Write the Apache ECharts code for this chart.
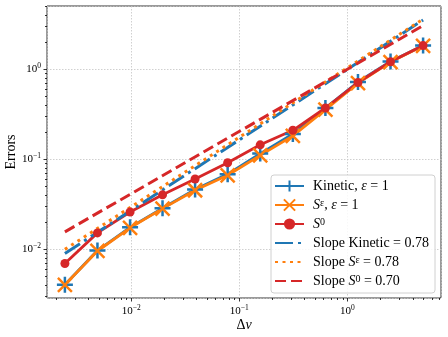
<!DOCTYPE html>
<html>
<head>
<meta charset="utf-8">
<script src="https://cdn.jsdelivr.net/npm/echarts@6/dist/echarts.min.js"></script>
<style>
  html, body { margin: 0; padding: 0; background: #fff; }
  #chart { width: 448px; height: 337px; }
</style>
</head>
<body>
<div id="chart"></div>
<script>
// step sizes, halved each time
const dv = [0.00244, 0.00488, 0.00977, 0.0195, 0.039, 0.078, 0.156, 0.3125, 0.625, 1.25, 2.5, 5];
const errKinetic = [0.0040, 0.0096, 0.0174, 0.0284, 0.046, 0.068, 0.115, 0.19, 0.37, 0.72, 1.22, 1.83];
const errSeps = [0.0040, 0.0095, 0.0172, 0.0281, 0.045, 0.066, 0.110, 0.181, 0.355, 0.70, 1.20, 1.82];
const errS0 = [0.0069, 0.0151, 0.0258, 0.0400, 0.060, 0.091, 0.144, 0.209, 0.37, 0.71, 1.21, 1.83];
// fitted slope lines, value at first and last dv
const slopeKinetic = [0.0089, 3.52];
const slopeSeps = [0.0099, 3.60];
const slopeS0 = [0.0155, 3.05];

const xMajor = [0.01, 0.1, 1];
const xMinor = [0.002, 0.003, 0.004, 0.005, 0.006, 0.007, 0.008, 0.009,
  0.02, 0.03, 0.04, 0.05, 0.06, 0.07, 0.08, 0.09,
  0.2, 0.3, 0.4, 0.5, 0.6, 0.7, 0.8, 0.9, 2, 3, 4, 5, 6, 7];
const yMajor = [0.01, 0.1, 1];
const yMinor = [0.003, 0.004, 0.005, 0.006, 0.007, 0.008, 0.009,
  0.02, 0.03, 0.04, 0.05, 0.06, 0.07, 0.08, 0.09,
  0.2, 0.3, 0.4, 0.5, 0.6, 0.7, 0.8, 0.9, 2, 3, 4, 5];

const legendText = {
  Kinetic: 'Kinetic, {i|ε} = 1',
  Seps: '{i|S}{sup|ε}, {i|ε} = 1',
  S0: '{i|S}{sup|0}',
  SlopeK: 'Slope Kinetic = 0.78',
  SlopeSeps: 'Slope {i|S}{sup|ε} = 0.78',
  SlopeS0: 'Slope {i|S}{sup|0} = 0.70'
};

const font = 'Liberation Serif';
const blue = '#1f77b4', orange = '#ff7f0e', red = '#d62728';

function pairs(ys) { return dv.map((x, i) => [x, ys[i]]); }
function ends(ys) { return [[dv[0], ys[0]], [dv[dv.length - 1], ys[1]]]; }

function powLabel(v) {
  const l = Math.log10(v);
  const e = Math.round(l);
  if (Math.abs(l - e) > 1e-6) return '';
  return '10{sup|' + (e < 0 ? '−' + (-e) : e) + '}';
}

function tickSeries(axis, values, len) {
  return {
    type: 'custom', silent: true, clip: false, z: 5,
    data: values.map(v => axis === 'x' ? [v, 1] : [1, v]),
    renderItem: function (params, api) {
      const cs = params.coordSys;
      let shape;
      if (axis === 'x') {
        const x = Math.round(api.coord([api.value(0), 1])[0]) + 0.5;
        const y = cs.y + cs.height;
        shape = { x1: x, y1: y, x2: x, y2: y + len };
      } else {
        const y = Math.round(api.coord([1, api.value(1)])[1]) + 0.5;
        shape = { x1: cs.x - len, y1: y, x2: cs.x, y2: y };
      }
      return { type: 'line', shape: shape, style: { stroke: '#000', lineWidth: 0.8 } };
    }
  };
}

const labelRich = {
  sup: { fontSize: 7.5, fontFamily: font, color: '#000', verticalAlign: 'top', lineHeight: 13 }
};
const gridLine = { show: true, lineStyle: { color: '#c4c4c4', type: [1.5, 1.5], width: 0.8 } };
const noMark = { opacity: 0 };

let option = {
  animation: false,
  backgroundColor: '#fff',
  grid: {
    left: 47, right: 7, top: 6, bottom: 39, containLabel: false, outerBoundsMode: 'none',
    show: true, borderColor: '#000', borderWidth: 0.8
  },
  xAxis: {
    type: 'log', min: 0.001667, max: 7.32,
    axisLine: { show: false }, axisTick: { show: false },
    splitLine: gridLine,
    axisLabel: {
      formatter: powLabel, margin: 6, fontFamily: font, fontSize: 11, color: '#000',
      lineHeight: 14, rich: labelRich
    },
    name: 'Δ{i|v}', nameLocation: 'middle', nameGap: 20, nameMoveOverlap: false,
    nameTextStyle: { fontFamily: font, fontSize: 14, color: '#000',
      rich: { i: { fontStyle: 'italic', fontFamily: font, fontSize: 14 } } }
  },
  yAxis: {
    type: 'log', min: 0.00285, max: 5.04,
    axisLine: { show: false }, axisTick: { show: false },
    splitLine: gridLine,
    axisLabel: {
      formatter: powLabel, margin: 6, fontFamily: font, fontSize: 11, color: '#000',
      lineHeight: 14, rich: labelRich
    },
    name: 'Errors', nameLocation: 'middle', nameGap: 29, nameMoveOverlap: false,
    nameTextStyle: { fontFamily: font, fontSize: 14, color: '#000' }
  },
  legend: {
    data: [
      { name: 'Kinetic' }, { name: 'Seps' }, { name: 'S0' },
      { name: 'SlopeK', itemStyle: noMark },
      { name: 'SlopeSeps', itemStyle: noMark },
      { name: 'SlopeS0', itemStyle: noMark }
    ],
    orient: 'vertical', right: 13, bottom: 44,
    itemWidth: 29, itemHeight: 14, itemGap: 5,
    padding: [4, 6, 5, 3],
    backgroundColor: 'rgba(255,255,255,0.85)',
    borderColor: '#d0d0d0', borderWidth: 1, borderRadius: 3,
    formatter: n => legendText[n],
    textStyle: {
      fontFamily: font, fontSize: 14, color: '#000', padding: [0, 0, 0, 4], lineHeight: 14,
      rich: {
        i: { fontStyle: 'italic', fontFamily: font, fontSize: 14, lineHeight: 14 },
        sup: { fontSize: 10, fontFamily: font, verticalAlign: 'top', lineHeight: 14 }
      }
    }
  },
  series: [
    {
      name: 'Kinetic', type: 'line', data: pairs(errKinetic),
      symbol: 'path://M5,0L5,10M0,5L10,5', symbolSize: 16,
      lineStyle: { color: blue, width: 2.8 },
      itemStyle: { color: blue, borderColor: blue, borderWidth: 2.5 }
    },
    {
      name: 'Seps', type: 'line', data: pairs(errSeps),
      symbol: 'path://M0,0L10,10M10,0L0,10', symbolSize: 14,
      lineStyle: { color: orange, width: 2.8 },
      itemStyle: { color: orange, borderColor: orange, borderWidth: 2.5 }
    },
    {
      name: 'S0', type: 'line', data: pairs(errS0),
      symbol: 'circle', symbolSize: 9,
      lineStyle: { color: red, width: 2.8 },
      itemStyle: { color: red, borderWidth: 0 }
    },
    {
      name: 'SlopeK', type: 'line', data: ends(slopeKinetic), showSymbol: false, symbol: 'none',
      lineStyle: { color: blue, width: 3, type: [18, 5, 3, 5] }, itemStyle: { color: blue }
    },
    {
      name: 'SlopeSeps', type: 'line', data: ends(slopeSeps), showSymbol: false, symbol: 'none',
      lineStyle: { color: orange, width: 3, type: [3, 4.5] }, itemStyle: { color: orange }
    },
    {
      name: 'SlopeS0', type: 'line', data: ends(slopeS0), showSymbol: false, symbol: 'none',
      lineStyle: { color: red, width: 3, type: [11, 5] }, itemStyle: { color: red }
    },
    tickSeries('x', xMajor, 3.5),
    tickSeries('x', xMinor, 2),
    tickSeries('y', yMajor, 3.5),
    tickSeries('y', yMinor, 2)
  ]
};

let myChart = echarts.init(document.getElementById('chart'));
myChart.setOption(option);
window.onresize = myChart.resize;
</script>
</body>
</html>
